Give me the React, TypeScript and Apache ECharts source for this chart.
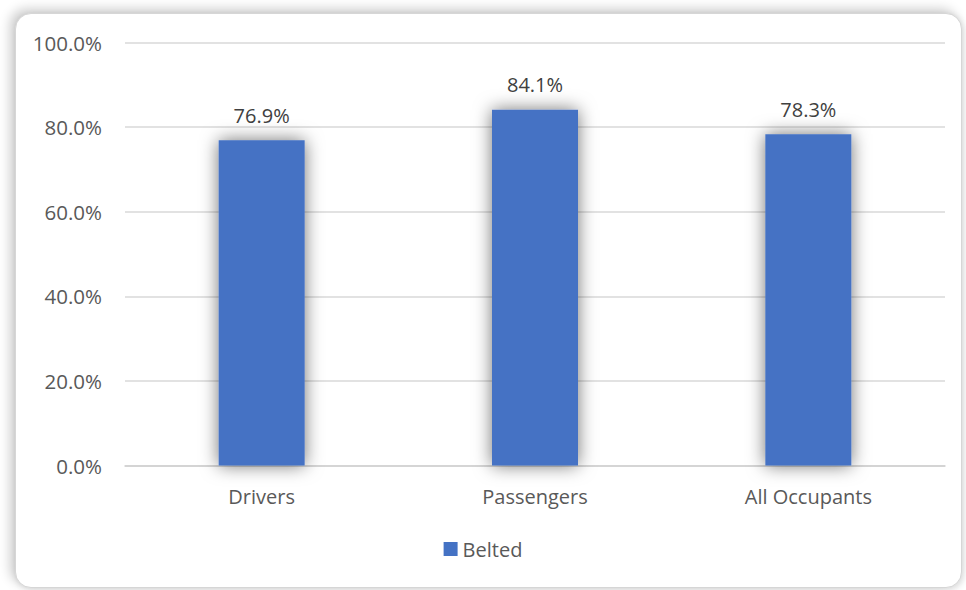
import React, { useEffect, useRef } from "react";
import * as echarts from "echarts";

const categories = ["Drivers", "Passengers", "All Occupants"];
const belted = [76.9, 84.1, 78.3];
const yTicks = [0, 20, 40, 60, 80, 100];
const seriesName = "Belted";

export default function App() {
  const ref = useRef<HTMLDivElement>(null);
  useEffect(() => {
    if (!ref.current) return;
    const chart = echarts.init(ref.current, undefined, { renderer: "svg" });
    const font = "'Open Sans', 'Noto Sans', sans-serif";
    chart.setOption({
      animation: false,
      backgroundColor: "transparent",
      textStyle: { fontFamily: font },
      grid: { left: 125, right: 21, top: 42.5, bottom: 124.5, containLabel: false },
      legend: {
        data: [seriesName],
        bottom: 26,
        left: "center",
        icon: "rect",
        itemWidth: 14,
        itemHeight: 14,
        itemGap: 8,
        textStyle: { color: "#595959", fontSize: 20, fontFamily: font },
      },
      xAxis: {
        type: "category",
        data: categories,
        axisTick: { show: false },
        axisLine: { lineStyle: { color: "#d0d0d0", width: 1.5 } },
        axisLabel: { color: "#595959", fontSize: 20, margin: 21, fontFamily: font },
      },
      yAxis: {
        type: "value",
        min: yTicks[0],
        max: yTicks[yTicks.length - 1],
        interval: 20,
        axisLine: { show: false },
        axisTick: { show: false },
        splitLine: { lineStyle: { color: "#d9d9d9", width: 1.5 } },
        axisLabel: {
          color: "#595959",
          fontSize: 20.5,
          margin: 23,
          fontFamily: font,
          formatter: (v: number) => v.toFixed(1) + "%",
        },
      },
      series: [
        {
          name: seriesName,
          type: "bar",
          data: belted,
          barWidth: 86,
          itemStyle: {
            color: "#4472C4",
            shadowColor: "rgba(0,0,0,0.55)",
            shadowBlur: 18,
            shadowOffsetX: 0,
            shadowOffsetY: 0,
          },
          label: {
            show: true,
            position: "top",
            distance: 15,
            color: "#404040",
            fontSize: 20,
            fontFamily: font,
            formatter: (p: any) => p.value.toFixed(1) + "%",
          },
        },
      ],
    });
    return () => chart.dispose();
  }, []);

  return (
    <div style={{ position: "fixed", left: 0, top: 0, width: 966, height: 590, background: "#ffffff", overflow: "hidden" }}>
      <div
        style={{
          position: "absolute",
          left: 15,
          top: 13,
          width: 947,
          height: 575,
          boxSizing: "border-box",
          border: "1px solid #d6d6d6",
          borderRadius: 16,
          background: "#ffffff",
          boxShadow: "-5px -4px 12px rgba(0,0,0,0.2), 2px 2px 6px rgba(0,0,0,0.12)",
        }}
      />
      <div ref={ref} style={{ position: "absolute", left: 0, top: 0, width: 966, height: 590 }} />
    </div>
  );
}
